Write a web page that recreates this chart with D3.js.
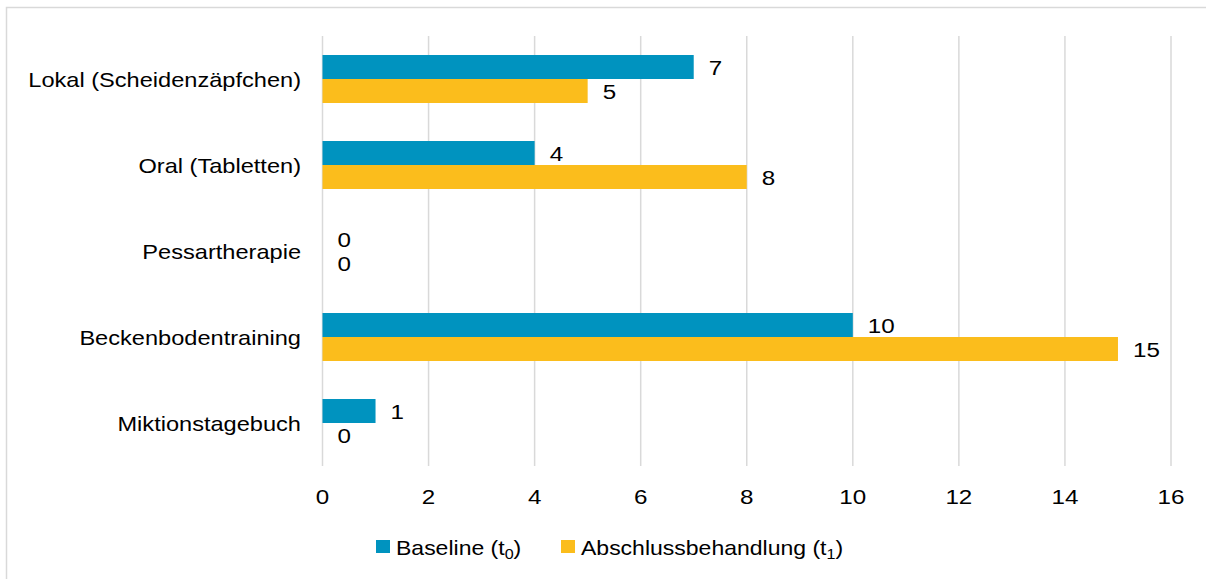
<!DOCTYPE html>
<html>
<head>
<meta charset="utf-8">
<script src="https://cdn.jsdelivr.net/npm/d3@7"></script>
<style>
  html, body { margin: 0; padding: 0; background: #fff; }
  svg { display: block; }
  text { font-family: "Liberation Sans", Arial, sans-serif; fill: #000; }
</style>
</head>
<body>
<svg id="chart" width="1206" height="579"></svg>
<script>
// Therapieformen: Anzahl zu Beginn (t0) und bei Abschluss (t1)
const categories = [
  "Lokal (Scheidenzäpfchen)",
  "Oral (Tabletten)",
  "Pessartherapie",
  "Beckenbodentraining",
  "Miktionstagebuch"
];
const baselineValues = [7, 4, 0, 10, 1];
const abschlussValues = [5, 8, 0, 15, 0];
const seriesNames = ["Baseline", "Abschlussbehandlung"];
const seriesSubs = ["0", "1"];
const tickValues = [0, 2, 4, 6, 8, 10, 12, 14, 16];

const colors = { Baseline: "#0093BF", Abschlussbehandlung: "#FBBD1C" };
const grid = "#d9d9d9";
const stretch = 1.18; // horizontal text scaling

const svg = d3.select("#chart");

// outer frame (left and top edges visible)
svg.append("path")
  .attr("d", "M6.5,579 V7.5 H1206")
  .attr("fill", "none")
  .attr("stroke", grid)
  .attr("stroke-width", 1.5);

const x = d3.scaleLinear().domain([0, 16]).range([322.5, 1171]);
const y = d3.scaleBand().domain(categories).range([36, 466])
  .paddingInner(0.442).paddingOuter(0.221);
const ySub = d3.scaleBand().domain(seriesNames).range([0, y.bandwidth()]);

// vertical gridlines
svg.append("g").selectAll("line").data(tickValues).join("line")
  .attr("x1", d => x(d)).attr("x2", d => x(d))
  .attr("y1", 36).attr("y2", 466)
  .attr("stroke", grid).attr("stroke-width", 1.5);

// x tick labels
svg.append("g").selectAll("text").data(tickValues).join("text")
  .attr("transform", d => `translate(${x(d)},${497}) scale(${stretch},1)`)
  .attr("text-anchor", "middle")
  .attr("dominant-baseline", "central")
  .style("font-size", "20.5px")
  .text(d => d);

// category labels
svg.append("g").selectAll("text").data(categories).join("text")
  .attr("transform", d => `translate(301,${y(d) + y.bandwidth() / 2 + 1}) scale(${stretch},1)`)
  .attr("text-anchor", "end")
  .attr("dominant-baseline", "central")
  .style("font-size", "20px")
  .text(d => d);

const rows = categories.map((c, i) => ({
  cat: c,
  values: [
    { s: "Baseline", v: baselineValues[i] },
    { s: "Abschlussbehandlung", v: abschlussValues[i] }
  ]
}));

const groups = svg.append("g").selectAll("g").data(rows).join("g")
  .attr("transform", d => `translate(0,${y(d.cat)})`);

groups.selectAll("rect").data(d => d.values).join("rect")
  .attr("x", x(0))
  .attr("y", d => ySub(d.s))
  .attr("width", d => x(d.v) - x(0))
  .attr("height", ySub.bandwidth())
  .attr("fill", d => colors[d.s]);

groups.selectAll("text").data(d => d.values).join("text")
  .attr("transform", d => `translate(${x(d.v) + 15},${ySub(d.s) + ySub.bandwidth() / 2 + 1}) scale(${stretch},1)`)
  .attr("dominant-baseline", "central")
  .style("font-size", "20.5px")
  .text(d => d.v);

// legend
const legendX = [376, 561];
const legend = svg.append("g").selectAll("g").data(seriesNames).join("g")
  .attr("transform", (d, i) => `translate(${legendX[i]},540)`);
legend.append("rect")
  .attr("width", 14).attr("height", 13)
  .attr("fill", d => colors[d]);
const lt = legend.append("text")
  .attr("transform", `translate(20,14.5) scale(1.15,1)`)
  .style("font-size", "20px");
lt.append("tspan").text(d => d + " (t");
lt.append("tspan").attr("dy", 4).style("font-size", "14px").text((d, i) => seriesSubs[i]);
lt.append("tspan").attr("dy", -4).text(")");
</script>
</body>
</html>
